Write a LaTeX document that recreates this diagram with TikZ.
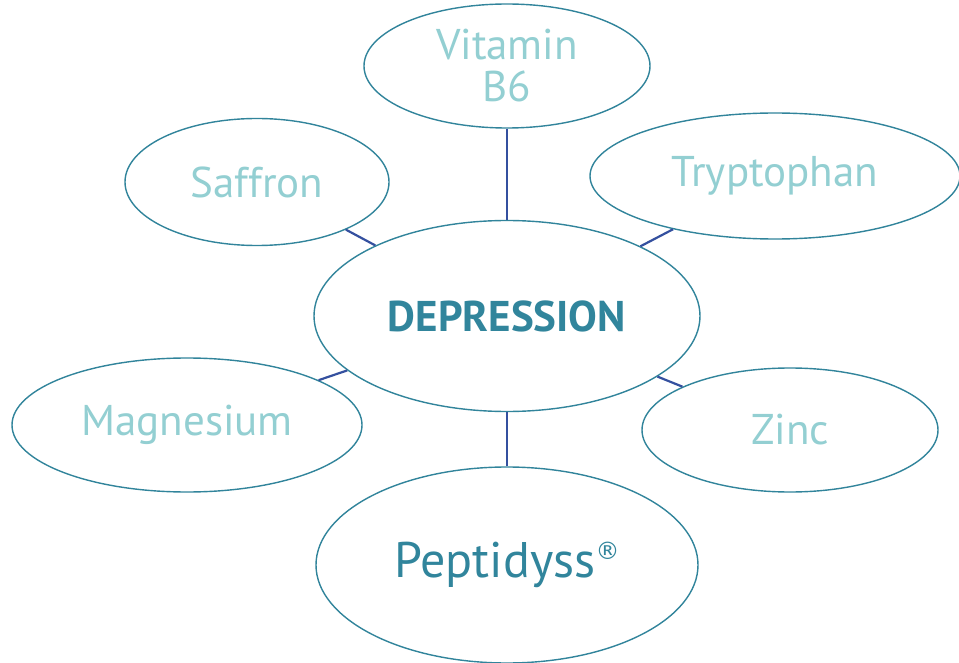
\documentclass[tikz,border=0pt]{standalone}
\usepackage{fontspec}
\setmainfont{PT Sans}
\newfontfamily\regfont{DejaVu Sans}
\usetikzlibrary{shapes.geometric}
\definecolor{rim}{HTML}{31849B}
\definecolor{link}{HTML}{34509F}
\definecolor{light}{HTML}{93CFD2}
\definecolor{dark}{HTML}{31859C}
\tikzset{
  bub/.style={ellipse, draw=rim, line width=1.4pt, inner sep=0pt, fill=white, align=center},
  outer/.style={bub, text=light, font=\fontsize{43}{46}\selectfont},
  conn/.style={draw=link, line width=2.2pt}
}
\begin{document}
\begin{tikzpicture}[x=1pt,y=-1pt]
\useasboundingbox (0,0) rectangle (959,663);
\node[outer, minimum width=286, minimum height=124] (vit) at (507,66) {Vitamin\\[-4pt]B6};
\node[outer, minimum width=264, minimum height=127] (saf) at (257,182) {Saffron};
\node[outer, minimum width=370, minimum height=126] (try) at (775,176) {Tryptophan};
\node[bub, text=dark, font=\bfseries\fontsize{43}{46}\selectfont, minimum width=386, minimum height=191] (dep) at (507,316) {DEPRESSION};
\node[outer, minimum width=350, minimum height=134] (mag) at (187,425) {Magnesium};
\node[outer, minimum width=296, minimum height=124] (zin) at (790,430) {Zinc};
\node[bub, text=dark, font=\fontsize{50}{54}\selectfont, minimum width=382, minimum height=196] (pep) at (507,565) {Peptidyss\raisebox{0.36em}{\regfont\fontsize{24}{26}\selectfont ®}};
\draw[conn] (vit) -- (dep);
\draw[conn] (saf) -- (dep);
\draw[conn] (try) -- (dep);
\draw[conn] (mag) -- (dep);
\draw[conn] (zin) -- (dep);
\draw[conn] (pep) -- (dep);
\end{tikzpicture}
\end{document}
